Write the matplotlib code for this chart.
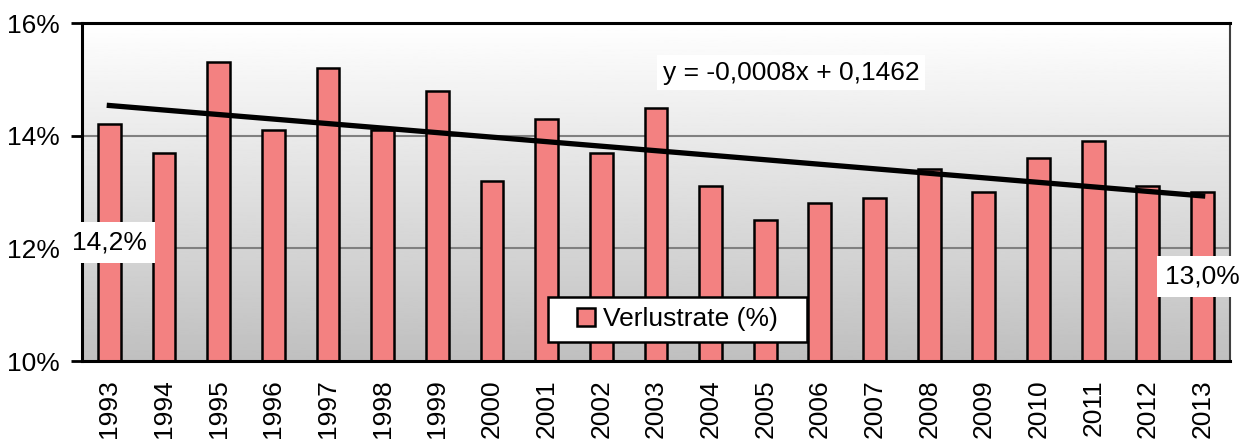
import numpy as np
import matplotlib
matplotlib.use("Agg")
import matplotlib.pyplot as plt
from matplotlib.patches import Rectangle

plt.rcParams['font.family'] = ['Liberation Sans', 'DejaVu Sans']

# --- data ---
years = ['1993', '1994', '1995', '1996', '1997', '1998', '1999', '2000', '2001', '2002', '2003',
         '2004', '2005', '2006', '2007', '2008', '2009', '2010', '2011', '2012', '2013']
loss_rate = [14.2, 13.7, 15.3, 14.1, 15.2, 14.1, 14.8, 13.2, 14.3, 13.7, 14.5,
             13.1, 12.5, 12.8, 12.9, 13.4, 13.0, 13.6, 13.9, 13.1, 13.0]
y_ticks = [10, 12, 14, 16]

x = np.arange(len(years))
fs = 19

fig = plt.figure(figsize=(12.52, 4.41), dpi=100)
ax = fig.add_axes([0.0655, 0.1814, 0.9169, 0.7664])

# gradient background (white at top -> gray at bottom)
grad = np.linspace(1.0, 0.75, 256).reshape(-1, 1)
ax.imshow(grad, extent=[-0.5, len(years) - 0.5, 10, 16], aspect='auto',
          cmap='gray', vmin=0, vmax=1, zorder=0, origin='upper')

for yv in [12, 14]:
    ax.axhline(yv, color='#808080', lw=1.5, zorder=1)

ax.bar(x, loss_rate, width=0.42, bottom=0, color='#F38181', edgecolor='black',
       linewidth=1.8, zorder=2, label='Verlustrate (%)')

# linear trend
coef = np.polyfit(x + 1, np.array(loss_rate) / 100, 1)
trend = np.polyval(coef, x + 1) * 100
ax.plot(x, trend, color='black', lw=3.8, zorder=3)

ax.text(12.47, 15.12, 'y = -0,0008x + 0,1462', fontsize=fs, ha='center', va='center', zorder=5,
        bbox=dict(facecolor='white', edgecolor='none', pad=4))

ax.text(0, 12.1, '14,2%', fontsize=fs, ha='center', va='center', zorder=5,
        bbox=dict(facecolor='white', edgecolor='none', pad=6))
ax.text(20, 11.5, '13,0%', fontsize=fs, ha='center', va='center', zorder=5,
        bbox=dict(facecolor='white', edgecolor='none', pad=6))

# legend box drawn separately (wide horizontal padding)
ax.add_patch(Rectangle((0.5187 - 0.1128, 0.1228 - 0.0665), 0.2256, 0.133,
                       transform=ax.transAxes, facecolor='white', edgecolor='black',
                       lw=1.8, zorder=6))
leg = ax.legend(loc='center', bbox_to_anchor=(0.5187, 0.1228), fontsize=fs, frameon=False,
                handlelength=0.7, handleheight=0.7, handletextpad=0.3, borderpad=0.2)
leg.set_zorder(7)

ax.set_xlim(-0.5, len(years) - 0.5)
ax.set_ylim(10, 16)
ax.set_yticks(y_ticks)
ax.set_yticklabels([f'{v}%' for v in y_ticks], fontsize=fs)
ax.set_xticks(x)
ax.set_xticklabels(years, rotation=90, fontsize=fs)
ax.tick_params(axis='x', length=0, pad=13)
ax.tick_params(axis='y', length=8, width=2, pad=8)

for s in ['left', 'bottom', 'top']:
    ax.spines[s].set_linewidth(2.2)
ax.spines['right'].set_linewidth(1.5)
ax.spines['right'].set_color('#404040')

fig.savefig('out.png', dpi=100)
